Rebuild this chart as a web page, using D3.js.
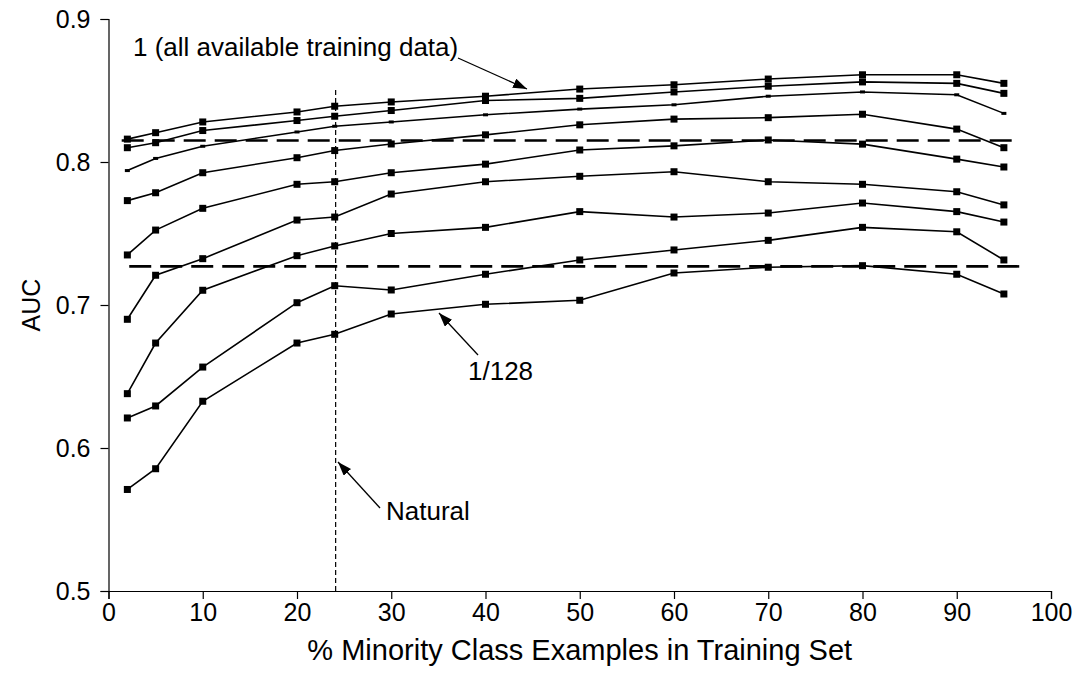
<!DOCTYPE html>
<html>
<head>
<meta charset="utf-8">
<script src="https://cdn.jsdelivr.net/npm/d3@7"></script>
<style>
  body { margin: 0; background: #fff; }
  svg text { font-family: "Liberation Sans", Arial, Helvetica, sans-serif; fill: #000; }
</style>
</head>
<body>
<div id="chart"></div>
<script>
(function() {
  var width = 1076,
      height = 692;

  // % minority class examples in the training set
  var xValues = [2, 5, 10, 20, 24, 30, 40, 50, 60, 70, 80, 90, 95];

  // training set size (fraction of all available data)
  var seriesNames = ["1", "3/4", "1/2", "1/4", "1/8", "1/16", "1/32", "1/64", "1/128"];

  var auc1    = [0.816, 0.8205, 0.828, 0.835, 0.839, 0.842, 0.846, 0.851, 0.854, 0.858, 0.861, 0.861, 0.855];
  var auc3_4  = [0.810, 0.8135, 0.822, 0.829, 0.832, 0.836, 0.843, 0.8445, 0.849, 0.853, 0.856, 0.855, 0.848];
  var auc1_2  = [0.794, 0.8025, 0.811, 0.821, 0.825, 0.828, 0.833, 0.837, 0.840, 0.846, 0.849, 0.847, 0.834];
  var auc1_4  = [0.773, 0.7785, 0.7925, 0.803, 0.808, 0.8126, 0.819, 0.826, 0.830, 0.831, 0.8334, 0.823, 0.810];
  var auc1_8  = [0.735, 0.7524, 0.7676, 0.7844, 0.7862, 0.7925, 0.7985, 0.8084, 0.8113, 0.8154, 0.8125, 0.802, 0.7965];
  var auc1_16 = [0.690, 0.7208, 0.7324, 0.7594, 0.7615, 0.7776, 0.7862, 0.790, 0.7932, 0.7862, 0.7844, 0.7792, 0.770];
  var auc1_32 = [0.638, 0.6734, 0.7103, 0.7345, 0.7413, 0.750, 0.7543, 0.7653, 0.7615, 0.7643, 0.7713, 0.7653, 0.758];
  var auc1_64 = [0.621, 0.6294, 0.6566, 0.7016, 0.7135, 0.7105, 0.7215, 0.7315, 0.7385, 0.7452, 0.7543, 0.7512, 0.7315];
  var auc1_128 = [0.571, 0.5855, 0.6327, 0.6734, 0.6795, 0.6937, 0.7005, 0.7033, 0.7224, 0.7264, 0.7275, 0.7215, 0.7077];

  var seriesValues = [auc1, auc3_4, auc1_2, auc1_4, auc1_8, auc1_16, auc1_32, auc1_64, auc1_128];
  var smallMarkerSeries = "1/2";

  // reference lines
  var refLevels = [0.815, 0.727];
  var refStart = [1.4, 2.2];
  var refEnd = [96, 97];
  var naturalX = 24.1;
  var naturalTop = 0.852;

  var xTicks = [0, 10, 20, 30, 40, 50, 60, 70, 80, 90, 100];
  var yTicks = [0.5, 0.6, 0.7, 0.8, 0.9];

  var svg = d3.select("#chart")
    .append("svg")
    .attr("width", width)
    .attr("height", height);

  var x = d3.scaleLinear().domain([0, 100]).range([108.5, 1051]);
  var y = d3.scaleLinear().domain([0.5, 0.9]).range([591, 19]);

  // arrow head
  svg.append("defs").append("marker")
    .attr("id", "arrow")
    .attr("viewBox", "0 0 14 10")
    .attr("refX", 14)
    .attr("refY", 5)
    .attr("markerWidth", 14)
    .attr("markerHeight", 10)
    .attr("markerUnits", "userSpaceOnUse")
    .attr("orient", "auto")
    .append("path")
    .attr("d", "M0,0 L14,5 L0,10 Z")
    .attr("fill", "#000");

  // axes
  var yAxis = svg.append("g")
    .attr("transform", "translate(" + x(0) + ",0)")
    .call(d3.axisLeft(y).tickValues(yTicks).tickFormat(d3.format(".1f")).tickSizeOuter(0).tickSize(8).tickPadding(10));

  var xAxis = svg.append("g")
    .attr("transform", "translate(0," + y(0.5) + ")")
    .call(d3.axisBottom(x).tickValues(xTicks).tickFormat(d3.format("d")).tickSizeOuter(0).tickSize(8).tickPadding(4));

  [yAxis, xAxis].forEach(function(ax) {
    ax.selectAll("path, line").attr("stroke", "#000").attr("stroke-width", 1.2);
    ax.selectAll("text")
      .attr("font-size", 25)
      .attr("font-family", "'Liberation Sans', Arial, sans-serif")
      .attr("fill", "#000");
  });

  svg.append("text")
    .attr("x", (x(0) + x(100)) / 2)
    .attr("y", 660)
    .attr("text-anchor", "middle")
    .attr("font-size", 29)
    .text("% Minority Class Examples in Training Set");

  svg.append("text")
    .attr("transform", "translate(40," + y(0.7) + ") rotate(-90)")
    .attr("text-anchor", "middle")
    .attr("font-size", 25)
    .text("AUC");

  // dashed horizontal reference lines
  svg.selectAll(".ref")
    .data(refLevels)
    .enter()
    .append("line")
    .attr("class", "ref")
    .attr("x1", function(d, i) { return x(refStart[i]); })
    .attr("x2", function(d, i) { return x(refEnd[i]); })
    .attr("y1", function(d) { return y(d); })
    .attr("y2", function(d) { return y(d); })
    .attr("stroke", "#000")
    .attr("stroke-width", 2.6)
    .attr("stroke-dasharray", "22,9");

  // natural distribution
  svg.append("line")
    .attr("x1", x(naturalX))
    .attr("x2", x(naturalX))
    .attr("y1", y(0.5))
    .attr("y2", y(naturalTop))
    .attr("stroke", "#000")
    .attr("stroke-width", 1.2)
    .attr("stroke-dasharray", "5,3");

  var data = seriesNames.map(function(name, i) {
    return {
      name: name,
      points: xValues.map(function(xv, j) { return { x: xv, y: seriesValues[i][j] }; })
    };
  });

  var line = d3.line()
    .x(function(d) { return x(d.x); })
    .y(function(d) { return y(d.y); });

  var groups = svg.selectAll(".series")
    .data(data)
    .enter()
    .append("g")
    .attr("class", "series");

  groups.append("path")
    .attr("d", function(d) { return line(d.points); })
    .attr("fill", "none")
    .attr("stroke", "#000")
    .attr("stroke-width", 1.6);

  groups.each(function(s) {
    var small = s.name === smallMarkerSeries;
    var w = small ? 5 : 7, h = small ? 3 : 7;
    d3.select(this).selectAll("rect")
      .data(s.points)
      .enter()
      .append("rect")
      .attr("x", function(d) { return x(d.x) - w / 2; })
      .attr("y", function(d) { return y(d.y) - h / 2; })
      .attr("width", w)
      .attr("height", h)
      .attr("fill", "#000");
  });

  // annotations
  var notes = [
    { text: "1 (all available training data)", tx: 133, ty: 56, x1: 458, y1: 58, x2: 527, y2: 89 },
    { text: "1/128", tx: 468, ty: 380, x1: 478, y1: 355, x2: 439, y2: 313 },
    { text: "Natural", tx: 386, ty: 520, x1: 380, y1: 508, x2: 338, y2: 462 }
  ];

  svg.selectAll(".note-line")
    .data(notes)
    .enter()
    .append("line")
    .attr("x1", function(d) { return d.x1; })
    .attr("y1", function(d) { return d.y1; })
    .attr("x2", function(d) { return d.x2; })
    .attr("y2", function(d) { return d.y2; })
    .attr("stroke", "#000")
    .attr("stroke-width", 1.3)
    .attr("marker-end", "url(#arrow)");

  svg.selectAll(".note")
    .data(notes)
    .enter()
    .append("text")
    .attr("x", function(d) { return d.tx; })
    .attr("y", function(d) { return d.ty; })
    .attr("font-size", 26)
    .text(function(d) { return d.text; });
})();
</script>
</body>
</html>
